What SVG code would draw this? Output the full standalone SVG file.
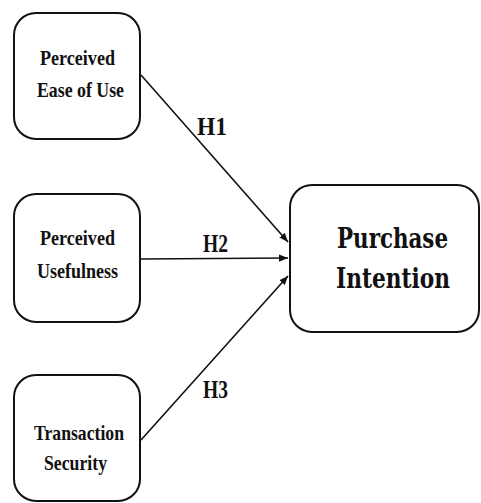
<svg xmlns="http://www.w3.org/2000/svg" width="481" height="503" viewBox="0 0 481 503">
  <style>
    .box { fill: #ffffff; stroke: #111111; stroke-width: 2; }
    .lbl { font-family: "Liberation Serif", "Times New Roman", serif; font-weight: bold; font-size: 22px; fill: #111111; }
    .hyp { font-family: "Liberation Serif", "Times New Roman", serif; font-weight: bold; font-size: 25px; fill: #111111; }
    .big { font-family: "DejaVu Serif", "Liberation Serif", serif; font-weight: bold; font-size: 27.5px; fill: #111111; }
    .edge { stroke: #111111; stroke-width: 1.6; fill: none; marker-end: url(#arrow); }
  </style>
  <defs>
    <marker id="arrow" viewBox="0 0 10 10" refX="10" refY="5" markerWidth="9" markerHeight="9" markerUnits="userSpaceOnUse" orient="auto">
      <path d="M0,1 L10,5 L0,9 Z" fill="#111111"/>
    </marker>
  </defs>
  <rect width="481" height="503" fill="#ffffff"/>

  <g id="connectors">
    <line class="edge" x1="141" y1="75" x2="288" y2="242"/>
    <line class="edge" x1="141" y1="259" x2="288" y2="258"/>
    <line class="edge" x1="141" y1="440" x2="288" y2="276"/>
    <text class="hyp" x="197" y="135" textLength="30" lengthAdjust="spacingAndGlyphs">H1</text>
    <text class="hyp" x="203" y="252" textLength="25" lengthAdjust="spacingAndGlyphs">H2</text>
    <text class="hyp" x="203" y="398" textLength="25" lengthAdjust="spacingAndGlyphs">H3</text>
  </g>

  <g id="perceived-ease-of-use">
    <rect class="box" x="14" y="13" width="126" height="126" rx="22"/>
    <text class="lbl" x="40" y="65" textLength="75" lengthAdjust="spacingAndGlyphs">Perceived</text>
    <text class="lbl" x="37" y="97" textLength="87" lengthAdjust="spacingAndGlyphs">Ease of Use</text>
  </g>

  <g id="perceived-usefulness">
    <rect class="box" x="14" y="194" width="126" height="128" rx="22"/>
    <text class="lbl" x="40" y="245" textLength="75" lengthAdjust="spacingAndGlyphs">Perceived</text>
    <text class="lbl" x="37" y="278" textLength="81" lengthAdjust="spacingAndGlyphs">Usefulness</text>
  </g>

  <g id="transaction-security">
    <rect class="box" x="14" y="375" width="126" height="126" rx="22"/>
    <text class="lbl" x="34" y="440" textLength="90" lengthAdjust="spacingAndGlyphs">Transaction</text>
    <text class="lbl" x="44" y="470" textLength="63" lengthAdjust="spacingAndGlyphs">Security</text>
  </g>

  <g id="purchase-intention">
    <rect class="box" x="290" y="185" width="189" height="147" rx="22"/>
    <text class="big" x="337" y="248" textLength="111" lengthAdjust="spacingAndGlyphs">Purchase</text>
    <text class="big" x="336" y="288" textLength="114" lengthAdjust="spacingAndGlyphs">Intention</text>
  </g>
</svg>
